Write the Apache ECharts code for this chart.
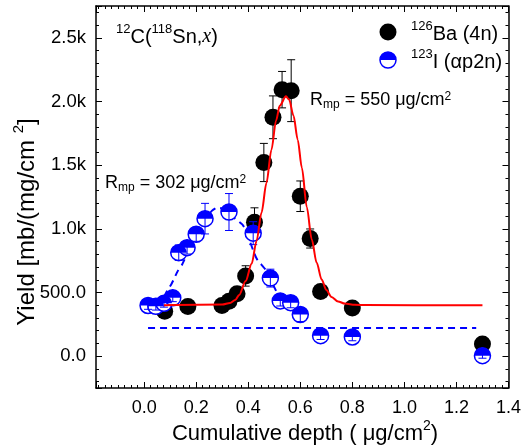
<!DOCTYPE html>
<html>
<head>
<meta charset="utf-8">
<script src="https://cdn.jsdelivr.net/npm/echarts@6/dist/echarts.min.js"></script>
<style>html,body{margin:0;padding:0;background:#fff;}#c{width:524px;height:446px;}</style>
</head>
<body>
<div id="c"></div>
<script>
// 126Ba (4n) data
const baX   = [0.079, 0.168, 0.299, 0.326, 0.357, 0.390, 0.424, 0.460, 0.495, 0.530, 0.565, 0.600, 0.638, 0.678, 0.800, 1.300];
const baY   = [353, 390, 398, 432, 490, 630, 1052, 1521, 1876, 2093, 2085, 1256, 924, 507, 379, 96];
const baErr = [25, 20, 20, 20, 25, 80, 113, 150, 168, 143, 243, 120, 75, 45, 20, 15];
// 123I (alpha p2n) data
const iX   = [0.015, 0.045, 0.076, 0.110, 0.133, 0.165, 0.200, 0.234, 0.326, 0.419, 0.485, 0.523, 0.563, 0.600, 0.678, 0.800, 1.300];
const iY   = [398, 392, 415, 458, 813, 852, 957, 1080, 1132, 966, 613, 434, 420, 327, 161, 151, 4];
const iErr = [30, 30, 30, 30, 60, 50, 55, 120, 145, 90, 70, 40, 40, 55, 30, 30, 20];
// Red fit curve
const fitBaX = [0.076, 0.30, 0.33, 0.35, 0.365, 0.39, 0.413, 0.432, 0.451, 0.47, 0.489, 0.507, 0.521, 0.545, 0.557, 0.574, 0.59, 0.606, 0.625, 0.644, 0.663, 0.682, 0.70, 0.72, 0.745, 0.771, 0.81, 0.85, 1.30];
const fitBaY = [400, 405, 418, 441, 480, 590, 725, 905, 1128, 1360, 1620, 1850, 1967, 2041, 2015, 1888, 1700, 1480, 1170, 917, 734, 602, 520, 465, 430, 413, 404, 401, 400];
// Blue dashed fit curve
const fitIX = [0.076, 0.091, 0.104, 0.129, 0.146, 0.17, 0.20, 0.23, 0.26, 0.28, 0.30, 0.34, 0.377, 0.392, 0.422, 0.434, 0.466, 0.479, 0.498, 0.517];
const fitIY = [465, 524, 563, 668, 720, 825, 950, 1064, 1141, 1166, 1160, 1095, 1035, 983, 813, 760, 681, 628, 550, 471];
// Blue dashed baseline
const baseIX = [0.015, 1.276];
const baseIY = [222, 222];

const FONT = 'Liberation Sans, Arial, sans-serif';
const chart = echarts.init(document.getElementById('c'), null, {renderer: 'canvas'});

function errRender(color) {
  return function (params, api) {
    const x = api.value(0), y = api.value(1), e = api.value(2);
    const t = api.coord([x, y + e]);
    const b = api.coord([x, y - e]);
    const w = 4;
    const st = {stroke: color, lineWidth: 1};
    return {type: 'group', children: [
      {type: 'line', shape: {x1: t[0], y1: t[1], x2: b[0], y2: b[1]}, style: st},
      {type: 'line', shape: {x1: t[0] - w, y1: t[1], x2: t[0] + w, y2: t[1]}, style: st},
      {type: 'line', shape: {x1: b[0] - w, y1: b[1], x2: b[0] + w, y2: b[1]}, style: st}
    ]};
  };
}

const axisLineStyle = {lineStyle: {color: '#000', width: 1.5}};
function xAx(pos, showLabel) {
  return {
    type: 'value', position: pos, min: -0.185, max: 1.4, splitNumber: 8,
    axisLine: Object.assign({onZero: false}, axisLineStyle),
    axisTick: {inside: true, length: 6, lineStyle: {color: '#000', width: 1}},
    minorTick: {show: true, splitNumber: 8, length: 3, lineStyle: {color: '#000', width: 1}},
    splitLine: {show: false}, minorSplitLine: {show: false},
    axisLabel: {show: showLabel, showMinLabel: false, color: '#000', fontSize: 18, fontFamily: FONT, margin: 11,
      formatter: v => v.toFixed(1)}
  };
}
function yAx(pos, showLabel) {
  return {
    type: 'value', position: pos, min: -250, max: 2750, splitNumber: 6,
    axisLine: Object.assign({onZero: false}, axisLineStyle),
    axisTick: {inside: true, length: 6, lineStyle: {color: '#000', width: 1}},
    minorTick: {show: true, splitNumber: 5, length: 3, lineStyle: {color: '#000', width: 1}},
    splitLine: {show: false}, minorSplitLine: {show: false},
    axisLabel: {show: showLabel, showMinLabel: false, showMaxLabel: false, color: '#000', fontSize: 18.5, fontFamily: FONT, margin: 10,
      formatter: v => (Math.abs(v) < 1000 ? v.toFixed(1) : (v / 1000).toFixed(1) + 'k')}
  };
}

const halfPath = 'path://M0 10 C0 4.5 4.5 0 10 0 C15.5 0 20 4.5 20 10 Z';

const richBase = {
  n: {fontSize: 20, fontFamily: FONT, color: '#000', lineHeight: 24, verticalAlign: 'bottom'},
  sup: {fontSize: 13, fontFamily: FONT, color: '#000', lineHeight: 13, verticalAlign: 'top'},
  it: {fontSize: 20, fontFamily: 'Liberation Serif, DejaVu Serif, serif', fontStyle: 'italic', color: '#000', lineHeight: 24, verticalAlign: 'bottom'},
  sub: {fontSize: 12, fontFamily: FONT, color: '#000', lineHeight: 12, verticalAlign: 'bottom', padding: [12, 0, 0, 0]},
  m: {fontSize: 18, fontFamily: FONT, color: '#000', lineHeight: 20, verticalAlign: 'top'},
  msup: {fontSize: 12, fontFamily: FONT, color: '#000', lineHeight: 12, verticalAlign: 'top'}
};

function txt(x, y, text, opts) {
  return Object.assign({
    type: 'text', x: x, y: y, z: 100,
    style: {text: text, rich: richBase, align: 'left', verticalAlign: 'middle', textAlign: 'left', textVerticalAlign: 'middle'}
  }, opts || {});
}

const option = {
  animation: false,
  backgroundColor: '#fff',
  grid: {left: 96, right: 12, top: 6, bottom: 58, containLabel: false},
  xAxis: [xAx('bottom', true), xAx('top', false)],
  yAxis: [yAx('left', true), yAx('right', false)],
  series: [
    {type: 'line', name: 'I base', data: baseIX.map((x, i) => [x, baseIY[i]]), symbol: 'none',
      lineStyle: {color: '#0000ff', width: 2, type: [7, 5]}, z: 1},
    {type: 'line', name: 'I fit', data: fitIX.map((x, i) => [x, fitIY[i]]), symbol: 'none', smooth: 0.2,
      lineStyle: {color: '#0000ff', width: 2, type: [7, 5]}, z: 1},
    {type: 'custom', name: 'Ba err', renderItem: errRender('#000'), data: baX.map((x, i) => [x, baY[i], baErr[i]]), z: 2},
    {type: 'scatter', name: '126Ba (4n)', data: baX.map((x, i) => [x, baY[i]]), symbol: 'circle', symbolSize: 17,
      itemStyle: {color: '#000', opacity: 1}, z: 3},
    {type: 'scatter', name: '123I bottom', data: iX.map((x, i) => [x, iY[i]]), symbol: 'circle', symbolSize: 16,
      itemStyle: {color: '#fff', borderColor: '#0000ff', borderWidth: 1.5, opacity: 1}, z: 4},
    {type: 'scatter', name: '123I top', data: iX.map((x, i) => [x, iY[i]]), symbol: halfPath, symbolSize: [16, 8], symbolOffset: [0, -4],
      itemStyle: {color: '#0000ff', opacity: 1}, z: 5},
    {type: 'custom', name: 'I err', renderItem: errRender('#0000ff'), data: iX.map((x, i) => [x, iY[i], iErr[i]]), z: 6},
    {type: 'line', name: 'Ba fit', data: fitBaX.map((x, i) => [x, fitBaY[i]]), symbol: 'none', smooth: 0.3, smoothMonotone: 'x',
      lineStyle: {color: '#ff0000', width: 2}, z: 7}
  ],
  graphic: [
    txt(116, 35, '{sup|12}{n|C(}{sup|118}{n|Sn,}{it|x}{n|)}'),
    {type: 'circle', shape: {cx: 388, cy: 32, r: 8.5}, style: {fill: '#000'}, z: 100},
    txt(411, 32, '{sup|126}{n|Ba (4n)}'),
    {type: 'circle', shape: {cx: 388, cy: 60, r: 8}, style: {fill: '#fff', stroke: '#0000ff', lineWidth: 1.5}, z: 100},
    {type: 'sector', shape: {cx: 388, cy: 60, r: 8, r0: 0, startAngle: Math.PI, endAngle: 2 * Math.PI}, style: {fill: '#0000ff'}, z: 101},
    txt(411, 60, '{sup|123}{n|I (αp2n)}'),
    txt(310, 101, '{m|R}{sub|mp}{m| = 550 μg/cm}{msup|2}'),
    txt(105, 184, '{m|R}{sub|mp}{m| = 302 μg/cm}{msup|2}'),
    {type: 'text', x: 25, y: 222, rotation: Math.PI / 2, z: 100,
      style: {text: '{t|Yield [mb/(mg/cm }{s|2}{t|]}', align: 'center', verticalAlign: 'middle', textAlign: 'center', textVerticalAlign: 'middle',
        rich: {t: {fontSize: 24, fontFamily: FONT, color: '#000', lineHeight: 28, verticalAlign: 'bottom'},
               s: {fontSize: 15, fontFamily: FONT, color: '#000', lineHeight: 15, verticalAlign: 'top'}}}},
    {type: 'text', x: 305, y: 432, z: 100,
      style: {text: '{t|Cumulative depth ( μg/cm}{s|2}{t|)}', align: 'center', verticalAlign: 'middle', textAlign: 'center', textVerticalAlign: 'middle',
        rich: {t: {fontSize: 22, fontFamily: FONT, color: '#000', lineHeight: 26, verticalAlign: 'bottom'},
               s: {fontSize: 14, fontFamily: FONT, color: '#000', lineHeight: 14, verticalAlign: 'top'}}}}
  ]
};
chart.setOption(option);
</script>
</body>
</html>
